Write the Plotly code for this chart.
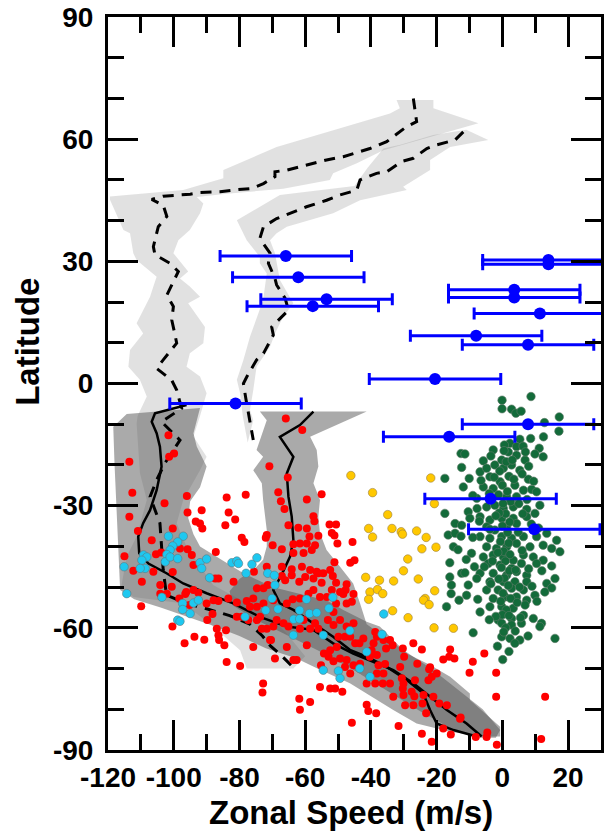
import plotly.graph_objects as go

# ---------------- data ----------------
x_tick_vals = [-120, -100, -80, -60, -40, -20, 0, 20]
x_tick_text = ["-120", "-100", "-80", "-60", "-40", "-20", "0", "20"]
y_tick_vals = [-90, -60, -30, 0, 30, 60, 90]
y_tick_text = ["-90", "-60", "-30", "0", "30", "60", "90"]
x_title = "Zonal Speed (m/s)"
y_title = "Latitude"

# blue points with error bars
blue_speed = [-65.9, -62.1, -53.5, -57.7, 14.0, 14.0, 3.6, 3.6, 11.4, -8.0, 7.8, -20.5, -81.2, 7.8, -16.2, -3.6, 9.7]
blue_lat = [31.3, 26.1, 20.7, 19.0, 30.3, 29.3, 23.0, 21.1, 17.2, 11.7, 9.5, 1.1, -4.9, -10.0, -13.1, -28.3, -35.8]
blue_err = [20, 20, 20, 20, 20, 20, 20, 20, 20, 20, 20, 20, 20, 20, 20, 20, 20]

# red points
red_speed = [-65.9, -60.9, -101.6, -99.9, -101.4, -113.5, -70.9, -65.3, -112.6, -96.0, -83.9, -78.1, -68.2, -67.4, -59.5,
             -102.8, -91.5, -95.8, -83.3, -66.3, -113.5, -81.3, -93.3, -92.0, -84.3, -91.3, -65.1, -100.3, -110.9, -79.3,
             -78.5, -71.7, -72.0, -62.1, -59.5, -58.7, -56.0, -106.7, -69.9, -67.1, -63.6, -61.6, -59.5, -57.0, -57.5,
             -57.2, -115.0, -105.4, -103.8, -98.1, -95.8, -94.5, -87.2, -63.6, -60.5, -58.0, -112.3, -106.2, -100.3, -94.0,
             -75.6, -71.7, -67.1, -64.1, -61.0, -58.5, -56.5, -109.7, -104.1, -102.1, -100.6, -96.2, -94.0, -92.5, -87.4,
             -86.4, -81.8, -77.8, -75.8, -74.7, -72.7, -71.4, -67.1, -66.1, -64.1, -61.8, -60.0, -57.5, -56.0, -109.9,
             -104.1, -98.3, -96.5, -95.2, -90.0, -87.9, -86.4, -83.4, -80.8, -76.8, -74.7, -72.7, -69.7, -65.6, -63.8,
             -61.6, -59.0, -57.5, -55.5, -100.4, -93.7, -96.7, -90.7, -89.8, -88.2, -86.9, -86.4, -84.1, -86.2, -84.6,
             -80.8, -79.3, -77.3, -74.7, -73.7, -73.2, -71.7, -68.7, -69.7, -66.6, -65.1, -61.6, -60.5, -58.5, -57.0,
             -56.0, -75.8, -70.7, -69.2, -83.9, -79.8, -72.8, -73.0, -61.8, -61.6, -58.5, -65.6, -63.6, -59.5, -55.5,
             -52.4, -50.9, -48.7, -45.8, -55.0, -52.6, -50.6, -51.9, -51.1, -50.2, -45.6, -51.1, -46.3, -45.0, -52.4,
             -51.6, -54.5, -50.6, -47.4, -47.7, -45.3, -45.8, -49.4, -51.9, -55.0, -53.4, -50.6, -48.4, -47.4, -51.4,
             -53.1, -51.4, -49.4, -47.4, -45.3, -49.9, -47.9, -46.3, -44.8, -43.5, -50.4, -52.4, -54.3, -52.9, -49.4,
             -47.4, -45.3, -43.3, -47.9, -46.3, -42.3, -38.7, -38.2, -39.2, -39.8, -40.3, -38.2, -36.2, -34.2, -33.4,
             -37.7, -35.7, -36.2, -38.2, -41.3, -38.7, -36.4, -34.2, -33.2, -30.6, -30.3, -30.1, -27.6, -26.6, -30.3,
             -27.1, -24.5, -29.9, -25.9, -22.3, -22.5, -21.5, -20.0, -24.0, -27.1, -29.6, -24.3, -21.0, -19.2, -23.2,
             -16.9, -12.9, -18.0, -15.7, -18.0, -16.2, -14.6, -15.9, -10.0, -9.0, -5.5, -1.9, -1.9, -8.1, -4.6,
             -4.8, -24.5, -21.5, -1.7, 11.8, 13.0, -41.3, -40.8, -38.4, -31.6, -35.4, -31.1, -30.1, -22.0, -26.8,
             -12.7, -55.2, -51.4, -70.4, -62.6]
red_lat = [-8.6, -11.4, -12.7, -17.2, -18.0, -19.2, -20.3, -23.1, -26.8, -27.6, -28.0, -27.3, -26.7, -28.9, -28.5,
           -29.4, -31.1, -31.7, -31.7, -30.8, -32.7, -33.4, -33.9, -34.4, -34.8, -35.6, -34.8, -35.6, -36.2, -37.9,
           -38.9, -37.2, -37.9, -35.4, -35.6, -37.6, -37.4, -38.5, -39.7, -40.7, -39.5, -39.3, -39.3, -39.7, -32.6,
           -33.8, -42.4, -41.9, -41.5, -40.5, -40.7, -42.1, -41.4, -41.6, -41.6, -40.9, -46.0, -46.2, -46.3, -44.6,
           -46.2, -45.0, -45.0, -45.6, -45.0, -45.8, -46.2, -48.7, -49.5, -51.6, -49.9, -51.2, -50.7, -51.4, -47.9,
           -47.9, -48.7, -53.4, -52.8, -50.3, -50.3, -49.5, -47.3, -48.3, -47.1, -48.7, -47.5, -47.9, -46.6, -54.7,
           -51.6, -52.8, -51.7, -54.4, -54.0, -53.2, -53.4, -52.8, -53.8, -54.8, -54.8, -54.0, -53.2, -54.0, -53.0,
           -52.8, -51.6, -50.7, -52.4, -59.7, -62.2, -63.8, -62.9, -58.1, -56.6, -60.2, -61.8, -60.6, -63.0, -64.3,
           -57.3, -57.3, -58.1, -58.1, -57.3, -60.2, -60.2, -58.1, -59.7, -58.9, -59.7, -60.2, -58.1, -60.2, -58.9,
           -60.2, -64.7, -63.0, -67.5, -68.4, -69.4, -73.7, -75.9, -77.4, -80.1, -78.2, -64.7, -67.9, -64.3, -74.5,
           -74.9, -74.9, -75.7, -83.3, -27.2, -34.6, -34.6, -36.7, -37.3, -39.3, -38.9, -43.9, -44.0, -43.4, -45.8,
           -47.3, -46.6, -48.9, -49.3, -50.7, -51.7, -53.6, -51.2, -50.7, -48.9, -52.4, -54.0, -51.7, -54.0, -56.1,
           -58.1, -59.3, -58.1, -59.7, -58.9, -62.2, -62.2, -62.2, -63.8, -63.8, -64.7, -65.5, -66.3, -67.1, -67.5,
           -67.9, -69.2, -68.8, -69.6, -71.2, -62.6, -61.0, -62.2, -63.8, -65.5, -67.1, -66.7, -63.0, -63.0, -64.3,
           -69.2, -68.9, -71.2, -71.2, -73.7, -73.7, -73.7, -73.7, -76.9, -72.4, -74.9, -76.5, -75.7, -72.9, -65.1,
           -63.8, -65.3, -67.1, -68.8, -70.2, -72.9, -72.0, -71.2, -76.5, -79.0, -79.0, -78.6, -76.9, -78.6, -81.0,
           -79.0, -82.3, -84.7, -86.2, -67.8, -67.1, -67.5, -65.3, -71.0, -68.3, -66.3, -71.0, -76.9, -86.8, -85.7,
           -86.8, -86.0, -88.0, -88.7, -87.3, -76.9, -78.9, -80.4, -81.0, -84.1, -65.1, -69.6, -73.7, -69.7, -76.8,
           -82.0, -69.2, -68.2, -63.0, -67.9]

# cyan points
cyan_speed = [-101.6, -97.1, -98.8, -100.3, -101.1, -102.1, -102.6, -101.1, -98.8, -109.2, -108.2, -109.7, -108.7,
              -110.2, -115.1, -114.3, -103.6, -97.3, -97.3, -95.0, -94.0, -92.5, -92.0, -90.0, -91.5, -89.1, -82.3,
              -80.8, -80.3, -76.2, -74.7, -78.0, -71.4, -69.4, -69.2, -98.8, -98.1, -70.1, -68.3, -72.0, -78.3, -63.5,
              -61.7, -61.7, -59.6, -58.7, -56.5, -52.8, -51.6, -63.6, -54.5, -46.4, -36.6, -36.1, -41.3, -43.4, -40.3,
              -49.9, -49.4, -54.5]
cyan_lat = [-37.5, -37.5, -38.9, -39.9, -40.9, -42.0, -43.8, -42.6, -43.0, -42.1, -42.6, -43.4, -45.4,
            -45.4, -45.0, -51.6, -52.5, -54.0, -55.5, -56.5, -53.9, -53.2, -44.0, -43.1, -45.4, -47.7, -44.0,
            -43.6, -44.2, -44.4, -42.8, -46.6, -46.6, -47.1, -49.5, -58.1, -58.4, -52.8, -55.4, -55.7, -57.3, -57.9,
            -57.8, -55.7, -53.0, -56.5, -56.3, -55.2, -52.5, -61.8, -61.8, -60.7, -61.6, -56.6, -65.9, -70.0, -72.0,
            -70.6, -72.4, -70.4]

# yellow points
yellow_speed = [-46.1, -21.8, -39.5, -20.7, -34.9, -40.7, -33.6, -39.5, -30.8, -30.4, -26.1, -23.2, -24.5, -20.2,
                -28.8, -30.1, -41.6, -37.4, -33.1, -25.6, -40.3, -38.0, -36.4, -40.7, -20.6, -23.5, -24.0, -22.3,
                -33.4, -28.7, -20.8, -14.9]
yellow_lat = [-22.6, -23.2, -26.8, -29.5, -32.2, -35.6, -35.6, -37.7, -36.4, -37.0, -36.2, -37.8, -40.6, -40.2,
              -43.1, -46.0, -47.6, -48.3, -48.5, -48.0, -51.2, -50.6, -51.6, -53.0, -50.9, -52.8, -53.2, -54.3,
              -55.8, -57.5, -60.0, -60.1]

# green points
green_speed = [8.7, -0.1, -0.1, 2.8, 4.1, 5.7, 17.3, 12.8, 17.2, 12.5, 8.6, 5.3, 2.3, 0.6, 4.3, 6.3, 11.2, -2.8,
               -12.6, -11.4, 1.8, 9.9, 12.4, -5.8, -0.2, 4.3, 6.9, -12.4, -6.8, -4.8, -2.3, 0.3, 2.8, 5.3, -17.5,
               -10.1, -3.8, 7.9, -0.7, -11.9, -5.8, -2.8, 3.8, 6.4, 8.9, 10.4, -7.8, 1.3, 4.3, 11.4, -17.5, -10.4,
               -7.7, -4.8, -2.3, 0.3, 3.3, 7.4, 9.9, -9.9, -6.8, -3.8, -0.2, 3.3, 7.4, -14.4, -12.4, -4.8, -2.3,
               1.3, 4.3, -16.5, -14.4, -12.6, -14.9, -6.8, -3.8, -0.2, 2.8, 6.4, 10.4, 16.5, 17.5, -4.8, -1.8, 1.3,
               4.3, 8.4, 12.4, 15.0, -9.4, -5.8, -2.8, 0.3, 3.3, 6.4, 9.4, 12.4, -16.0, -4.3, -0.7, 2.8, 5.8, 10.4,
               -12.4, -11.4, -6.8, -2.8, 1.3, 4.3, 7.4, 16.0, -16.0, -7.8, -3.8, 0.3, 3.8, 7.4, 13.5, 15.0, -15.5,
               -10.4, -4.8, -1.3, 2.8, 6.4, 12.9, -15.6, -13.2, -10.9, -2.8, 0.8, 4.3, 7.4, 9.9, -17.0, -6.8, -3.8,
               -0.2, 3.3, 6.9, -1.3, 2.8, 6.4, 9.4, 11.9, -8.9, -0.2, 2.8, 5.8, -0.2, 2.3, 5.3, 11.4, 16.0, 0.1,
               0.5, 1.2, -0.8, 2.0, 0.0, 1.5, -1.2, 2.5, 0.2, 1.0, -1.0, 2.2, 0.0, 1.6, -0.6, 1.9, 0.4, -1.4, 2.3,
               0.9, -0.3, 2.1, 0.6, -1.1, 1.8, 0.2, 2.5, -0.5, 1.2, 0.0, 2.0, 1.0, 0.4, 3.9, -2.0, 4.5, 5.2, -3.5,
               -5.5, 8.0, 6.0, -3.0, 4.8, -3.8, 8.8, 6.2, -2.0, 5.0, -4.0, 7.5, 3.5, -2.5, 6.0, 8.0, 3.0, -3.5, 7.0,
               11.0, 12.0, -8.5, -9.0, -7.5, 9.0, 5.5, -4.0, 3.8, -1.5, 2.0, 7.8, 13.5, 15.0, -11.0, -13.5, 10.5,
               -9.0, -7.0, 4.0, 9.5, -6.5]
green_lat = [-3.2, -4.1, -6.2, -6.3, -7.3, -6.8, -8.2, -9.6, -11.7, -13.1, -13.5, -13.7, -14.7, -15.1, -15.5, -15.4,
             -15.9, -16.3, -17.2, -17.3, -16.8, -17.3, -18.0, -19.0, -18.8, -17.6, -18.8, -20.6, -21.7, -20.8, -20.0,
             -20.8, -20.0, -21.3, -23.3, -23.3, -22.9, -23.5, -24.1, -25.4, -25.4, -25.8, -25.0, -26.2, -26.0, -26.6,
             -28.2, -27.8, -27.8, -29.9, -31.9, -31.5, -30.7, -30.3, -29.9, -30.7, -30.3, -30.9, -31.9, -33.1, -32.7,
             -33.5, -33.1, -33.1, -32.7, -34.4, -34.8, -35.2, -36.0, -35.2, -34.4, -37.2, -36.8, -37.5, -40.1, -37.6,
             -38.0, -37.6, -38.0, -37.6, -37.6, -38.5, -41.3, -40.1, -40.5, -40.1, -39.3, -40.1, -39.7, -40.5, -41.7,
             -42.6, -42.1, -42.6, -43.4, -42.1, -42.6, -43.4, -44.0, -44.2, -44.6, -45.4, -44.2, -44.2, -46.6, -46.5,
             -46.6, -46.6, -47.1, -46.2, -47.1, -47.9, -47.5, -47.9, -48.7, -48.7, -48.7, -48.7, -49.1, -50.2, -49.5,
             -49.5, -50.7, -50.7, -50.3, -50.7, -51.2, -51.6, -53.2, -52.0, -52.8, -52.4, -52.4, -53.2, -52.0, -54.8,
             -56.1, -54.8, -54.8, -55.2, -54.4, -58.1, -57.7, -56.9, -57.7, -58.9, -61.2, -58.9, -59.3, -58.9, -62.2,
             -62.6, -63.0, -59.7, -62.6, -67.8,
             -16.5, -19.2, -21.5, -22.8, -25.0, -26.5, -27.3, -29.0, -29.5, -32.0, -31.8, -34.0, -35.0, -36.6, -38.8,
             -39.2, -41.2, -41.5, -42.0, -43.6, -45.2, -46.0, -47.8, -48.0, -49.6, -51.5, -52.8, -53.5, -55.6, -56.8,
             -57.0, -60.0, -61.0, -60.8, -57.2, -53.8, -50.0, -49.2, -45.0, -45.5, -41.0, -43.6, -36.5, -35.8, -34.5,
             -32.0, -32.5, -29.5, -27.0, -28.5, -23.5, -23.0, -22.2, -20.3, -18.8, -17.8, -16.8, -35.5, -46.0, -45.0,
             -37.8, -53.0, -49.8, -57.5, -58.0, -63.8, -64.5, -65.8, -62.0, -36.8, -44.8, -43.2, -40.8, -53.5, -27.5,
             -33.8, -45.8, -24.0, -23.8]

# mean profiles (dashed: northern-branch profiles, solid: southern profiles)
dash1_speed = [-27.1, -26.6, -26.1, -29.1, -33.2, -35.2, -40.3, -48.4, -53.5, -57.5, -61.6, -65.6, -69.2, -69.2, -72.7,
               -76.3, -81.9, -85.9, -92.0, -95.0, -103.2, -106.7, -103.2, -102.1, -104.7, -106.2, -105.7, -101.1, -98.6,
               -100.6, -102.1, -100.1, -100.6, -99.6, -99.1, -103.2, -105.2, -100.6, -99.1, -97.6, -103.7, -98.1,
               -102.7, -105.2, -107.2, -104.2, -103.2, -102.2, -96.1, -90.0, -83.0, -77.0, -73.0, -70.5, -67.0, -63.5]
dash1_lat = [70.0, 67.6, 64.3, 63.1, 60.6, 59.4, 57.7, 55.7, 54.9, 54.1, 53.2, 52.4, 52.0, 50.8, 49.1, 47.9, 47.5,
             47.1, 46.9, 46.5, 46.0, 45.2, 43.8, 41.0, 38.5, 33.6, 31.6, 29.5, 27.5, 24.2, 21.7, 18.9, 15.6, 11.9, 9.9,
             5.8, 3.7, 0.8, -1.6, -6.1, -9.4, -13.9, -19.6, -23.7, -27.8, -34.3, -45.8, -52.0, -54.0, -55.3, -57.0,
             -59.0, -62.0, -64.5, -67.0, -69.8]
dash2_speed = [-11.9, -14.4, -20.0, -23.0, -27.1, -30.7, -35.2, -38.3, -43.3, -44.3, -49.4, -53.5, -59.6, -63.6, -68.7,
               -72.7, -73.8, -70.7, -71.2, -69.2, -68.7, -66.1, -65.1, -70.2, -69.7, -72.7, -74.8, -77.8, -78.8, -78.0,
               -76.8, -75.8]
dash2_lat = [61.8, 59.8, 58.6, 57.7, 55.3, 54.5, 52.0, 51.6, 50.0, 47.5, 46.3, 45.0, 43.4, 42.2, 40.5, 38.5, 35.6,
             32.0, 29.5, 25.8, 24.2, 20.9, 18.0, 13.9, 11.9, 7.4, 5.8, 1.6, 0.0, -4.0, -9.8, -13.9]
solidA_speed = [-96.1, -105.7, -106.7, -105.2, -104.2, -103.7, -105.2, -107.2, -109.3, -110.8, -110.5, -107.7, -102.2,
                -97.1, -90.0, -81.9, -73.8, -65.6, -57.5, -51.5, -45.4, -38.3, -33.2, -27.1, -22.0, -16.9, -10.9, -6.3]
solidA_lat = [-5.3, -7.3, -9.4, -12.2, -15.5, -20.4, -26.2, -31.1, -34.3, -37.6, -41.7, -44.2, -46.6, -49.1, -51.5,
              -54.0, -57.3, -59.7, -60.5, -63.8, -66.3, -68.8, -70.4, -73.6, -76.9, -80.2, -83.5, -86.7]
solidB_speed = [-57.5, -61.6, -67.7, -65.6, -63.6, -65.6, -65.1, -64.1, -63.6, -64.6, -67.2, -69.7, -67.7, -63.6, -57.5,
                -51.5, -46.4, -41.3, -35.2, -29.1, -24.1, -22.0, -20.0, -14.9, -7.8]
solidB_lat = [-6.9, -10.2, -13.1, -15.5, -18.0, -22.1, -27.8, -32.7, -38.4, -42.5, -47.0, -50.7, -54.0, -55.6, -58.9,
              -62.2, -65.4, -67.1, -69.6, -72.8, -76.1, -80.2, -83.5, -85.1, -86.7]

# spread envelopes (outline vertices)
n1_speed = [-32.2, -31.2, -34.2, -51.5, -68.7, -84.9, -84.9, -97.1, -119.4, -119.4, -115.3, -113.3, -112.3, -111.3,
            -105.2, -106.2, -107.2, -111.3, -109.3, -113.3, -113.8, -110.3, -108.2, -111.0, -92.0, -90.0, -92.0, -96.1,
            -95.1, -91.0, -90.5, -95.6, -92.0, -95.1, -98.1, -95.6, -100.1, -98.6, -95.1, -92.0, -91.0, -93.0, -83.9,
            -66.7, -52.5, -51.5, -44.3, -36.2, -17.0, -7.3, -21.0, -21.0]
n1_lat = [69.6, 67.6, 66.3, 62.2, 58.1, 52.4, 50.4, 47.5, 45.9, 45.1, 37.7, 36.9, 32.0, 30.3, 26.2, 23.8, 21.3, 14.8,
          12.3, 8.2, 4.1, 0.9, -3.2, -8.0, -8.0, -2.4, 1.7, 4.1, 7.4, 9.9, 13.9, 19.7, 21.3, 23.8, 25.8, 27.5, 32.0,
          35.2, 37.7, 41.8, 44.2, 45.8, 46.6, 47.8, 50.0, 51.6, 54.1, 57.3, 61.8, 63.9, 67.6, 69.6]
n2_speed = [-4.3, -11.0, -21.0, -31.0, -36.2, -41.0, -45.0, -55.0, -67.7, -80.8, -77.8, -73.8, -73.8, -71.7, -72.8,
            -76.8, -78.8, -80.8, -79.8, -79.0, -77.5, -75.8, -76.8, -75.8, -74.8, -70.7, -69.2, -66.7, -63.6, -67.7,
            -69.2, -70.7, -68.7, -65.6, -51.5, -43.3, -29.1, -30.2, -22.0, -22.0, -15.9]
n2_lat = [59.8, 62.3, 61.0, 58.6, 57.7, 53.0, 48.5, 47.5, 46.3, 40.1, 35.2, 31.1, 29.5, 27.0, 20.5, 11.5, 5.8, 0.9,
          -2.4, -8.0, -14.5, -9.0, -6.5, -1.6, 4.1, 9.0, 12.3, 16.4, 19.7, 25.4, 32.0, 35.2, 36.9, 38.5, 41.8, 45.0,
          47.5, 48.3, 52.4, 54.9, 58.1]
d1_speed = [-111.0, -111.3, -110.3, -108.2, -111.3, -114.3, -116.0, -112.3, -97.1, -89.0, -79.8, -77.8, -63.6, -60.0,
            -66.0, -72.0, -80.0, -88.0, -96.1, -99.1, -97.1, -92.0, -90.0, -94.0, -92.0]
d1_lat = [-8.0, -9.8, -22.0, -28.6, -37.6, -42.5, -50.0, -52.4, -54.0, -59.0, -65.5, -70.0, -70.0, -67.0, -61.0, -56.5,
          -53.0, -49.5, -40.0, -34.3, -28.6, -21.3, -18.0, -13.0, -8.0]
s1_speed = [-114.3, -118.4, -118.0, -117.5, -117.0, -116.3, -112.0, -104.0, -95.0, -88.0, -80.0, -72.0, -62.6, -55.0,
            -46.4, -38.3, -33.2, -26.1, -15.9, -5.8, -0.7, -0.7, -9.9, -9.9, -15.9, -22.0, -29.1, -37.3, -41.3, -48.4,
            -53.5, -60.0, -70.0, -78.8, -82.0, -87.0, -92.0, -94.0, -95.6, -95.0, -92.0, -90.0, -93.0, -94.0, -92.0]
s1_lat = [-7.5, -10.6, -20.0, -30.0, -40.0, -50.7, -53.0, -55.0, -57.5, -59.5, -62.0, -65.0, -67.5, -70.5, -73.6, -77.7,
          -80.2, -83.5, -85.5, -86.7, -86.7, -84.3, -77.7, -76.1, -72.0, -69.1, -66.3, -59.7, -58.5, -55.6, -53.2, -52.0,
          -50.0, -46.6, -45.0, -42.5, -40.0, -37.0, -33.0, -28.9, -25.5, -20.4, -15.5, -12.2, -6.0]
s2_speed = [-73.8, -41.3, -58.5, -56.5, -56.0, -57.5, -55.5, -56.0, -55.5, -53.5, -49.4, -45.4, -43.3, -41.3, -33.2,
            -21.0, -16.0, -10.9, -6.0, -0.7, -2.0, -8.0, -15.0, -25.0, -35.0, -45.0, -55.0, -66.0, -75.0, -82.0, -83.0,
            -80.0, -74.8, -72.8, -71.7, -71.7, -72.2, -72.8, -73.2, -75.8, -72.8, -74.8, -71.7]
s2_lat = [-6.9, -6.9, -13.1, -16.3, -20.4, -24.5, -28.6, -32.7, -36.8, -40.9, -45.0, -49.1, -54.0, -59.1, -63.8, -70.4,
          -73.6, -76.9, -80.0, -85.1, -87.0, -87.0, -85.0, -80.5, -75.5, -70.5, -66.0, -61.5, -58.0, -54.5, -51.0,
          -48.0, -45.0, -43.3, -40.0, -36.0, -32.7, -28.6, -24.5, -21.3, -18.0, -16.3, -9.0]

# ---------------- figure ----------------
LIGHT = "rgba(120,120,120,0.22)"
DARK = "rgba(85,85,85,0.5)"
FONT = "Liberation Sans"

fig = go.Figure()


def add_band(xs, ys, color):
    fig.add_trace(go.Scatter(x=xs, y=ys, mode="lines", fill="toself", fillcolor=color,
                             line=dict(width=0), hoverinfo="skip", showlegend=False))


add_band(n1_speed, n1_lat, LIGHT)
add_band(n2_speed, n2_lat, LIGHT)
add_band(d1_speed, d1_lat, LIGHT)
add_band(s1_speed, s1_lat, DARK)
add_band(s2_speed, s2_lat, DARK)

for xs, ys in [(dash1_speed, dash1_lat), (dash2_speed, dash2_lat)]:
    fig.add_trace(go.Scatter(x=xs, y=ys, mode="lines", showlegend=False,
                             line=dict(color="black", width=3, dash="11px,8px")))
for xs, ys in [(solidA_speed, solidA_lat), (solidB_speed, solidB_lat)]:
    fig.add_trace(go.Scatter(x=xs, y=ys, mode="lines", showlegend=False,
                             line=dict(color="black", width=2.5)))

fig.add_trace(go.Scatter(x=red_speed, y=red_lat, mode="markers", showlegend=False,
                         marker=dict(size=8, color="#ff0000", line=dict(width=0))))
fig.add_trace(go.Scatter(x=cyan_speed, y=cyan_lat, mode="markers", showlegend=False,
                         marker=dict(size=8.5, color="#1ec8f0", line=dict(width=0.6, color="#607880"))))
fig.add_trace(go.Scatter(x=yellow_speed, y=yellow_lat, mode="markers", showlegend=False,
                         marker=dict(size=8.5, color="#ffc800", line=dict(width=0.6, color="#9a8040"))))
fig.add_trace(go.Scatter(x=green_speed, y=green_lat, mode="markers", showlegend=False,
                         marker=dict(size=8.5, color="#136b3a", line=dict(width=0.6, color="#5f7a68"))))
fig.add_trace(go.Scatter(x=blue_speed, y=blue_lat, mode="markers", showlegend=False,
                         marker=dict(size=12, color="#0000ff"),
                         error_x=dict(type="data", array=blue_err, color="#0000ff", thickness=3, width=6)))

axis_common = dict(
    ticks="inside", ticklen=30, tickwidth=3, tickcolor="black",
    showline=True, linewidth=3, linecolor="black", mirror="allticks",
    showgrid=False, zeroline=False, automargin=False, ticklabeloverflow="allow",
    tickfont=dict(family=FONT, size=28, color="black", weight="bold"),
)

fig.update_xaxes(range=[-120, 30], tickvals=x_tick_vals, ticktext=x_tick_text,
                 minor=dict(dtick=10, tick0=0, ticks="inside", ticklen=16, tickwidth=3,
                            tickcolor="black", showgrid=False),
                 ticklabelstandoff=0,
                 **axis_common)
fig.update_yaxes(range=[-90, 90], tickvals=y_tick_vals, ticktext=y_tick_text,
                 minor=dict(dtick=10, tick0=0, ticks="inside", ticklen=16, tickwidth=3,
                            tickcolor="black", showgrid=False),
                 ticklabelstandoff=6,
                 **axis_common)

title_font = dict(family=FONT, size=33, color="black", weight="bold")
fig.add_annotation(text=x_title, xref="paper", yref="paper", x=0.493, y=-0.085,
                   xanchor="center", yanchor="middle", showarrow=False, font=title_font)
fig.add_annotation(text=y_title, xref="paper", yref="paper", x=-0.162, y=0.557,
                   xanchor="center", yanchor="middle", textangle=-90, showarrow=False, font=title_font)

fig.update_layout(width=605, height=833, margin=dict(l=108, r=4, t=17, b=83),
                  plot_bgcolor="white", paper_bgcolor="white", showlegend=False)

# remove the default page margin so the figure fills the window exactly; hide the mode bar
fig.write_html("out.html", config={"displayModeBar": False, "staticPlot": True},
               post_script="document.body.style.margin='0';document.body.style.overflow='hidden';")
